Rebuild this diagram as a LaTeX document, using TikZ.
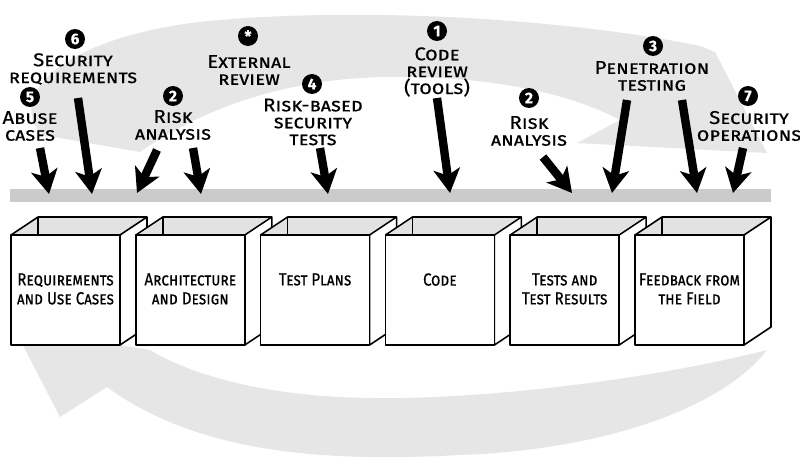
\documentclass[tikz,border=0pt]{standalone}
\usepackage{fontspec}
\setmainfont{Fira Sans}[FakeBold=0.4, SmallCapsFeatures={Scale=1.05, FakeStretch=1.1}]
\newfontfamily\boxfont{Fira Sans}[FakeStretch=0.86, FakeBold=0.4,
    SmallCapsFeatures={FakeStretch=0.86}]
\usetikzlibrary{arrows.meta}

\begin{document}
\begin{tikzpicture}[x=0.25mm, y=-0.25mm,
    bigarrow/.style={line width=2.1mm, -{Stealth[length=6mm, width=6.6mm, inset=1.6mm]}},
    badge/.style={circle, fill=black, text=white, inner sep=0pt, minimum size=5mm,
        font=\bfseries\fontsize{11}{11}\selectfont},
    toplbl/.style={align=center, inner sep=0pt, font=\scshape\fontsize{12.5}{12}\selectfont},
    boxlbl/.style={align=center, inner sep=0pt, font=\boxfont\scshape\fontsize{12.5}{13.5}\selectfont},
    cube/.style={draw=black, line width=1.1pt, line join=round}]
    % Define colors
    \definecolor{band}{RGB}{230,230,230}
    \definecolor{bar}{RGB}{203,203,203}
    \definecolor{inside}{RGB}{226,226,226}

    \useasboundingbox (0,0) rectangle (800,458);
    \fill[white] (0,0) rectangle (800,458);

    % --- BACKGROUND CYCLE (upper swoosh) ---
    \fill[band] (33,100) .. controls (45,60) and (120,28) .. (220,20)
        .. controls (400,5) and (600,25) .. (700,46) -- (715,52) -- (767,153)
        -- (577,143) -- (620,120)
        .. controls (560,88) and (470,75) .. (380,77)
        .. controls (280,80) and (200,110) .. (140,152)
        -- (43,135) .. controls (32,125) and (29,112) .. (33,100) -- cycle;

    % --- BACKGROUND CYCLE (lower swoosh) ---
    \fill[band] (767,350) .. controls (720,410) and (600,450) .. (460,455)
        .. controls (330,462) and (200,455) .. (107,387)
        -- (60,417) -- (14,328) -- (150,350)
        .. controls (200,380) and (280,397) .. (370,398)
        .. controls (480,400) and (650,380) .. (767,350) -- cycle;

    % --- THE BAR ---
    \fill[bar] (10,189) rectangle (771,202);

    % --- ARROWS onto the bar ---
    \foreach \i/\tx/\ty/\hx/\hy in {1/40/148/49/194, 2/78/98/92/194, 3/157/150/137/193,
        4/193/148/201/194, 5/320/148/328/194, 6/437/98/450/193, 7/543/157/572/193,
        8/627/100/612/193, 9/682/100/697/193, 10/743/148/733/193}
    {
        \coordinate (t\i) at (\tx,\ty);
        \coordinate (h\i) at (\hx,\hy);
        \draw[bigarrow] (t\i) -- (h\i);
    }

    % --- BOXES (left to right, each one covers the side of the previous) ---
    \foreach \i/\name/\lbl in {0/req/{Requirements\\and Use Cases}, 1/arch/{Architecture\\and Design},
        2/plans/{Test Plans}, 3/code/{Code}, 4/tests/{Tests and\\Test Results},
        5/field/{Feedback from\\the Field}}
    {
        \pgfmathsetmacro\bx{11+124.8*\i}
        \fill[inside] (\bx,235) -- (\bx+27,217) -- (\bx+136,217) -- (\bx+109,235) -- cycle;
        \draw[cube] (\bx,235) -- (\bx+27,217) -- (\bx+136,217);
        \draw[cube] (\bx+27,217) -- (\bx+27,235);
        \filldraw[cube, fill=white] (\bx+109,235) -- (\bx+136,217) -- (\bx+136,327) -- (\bx+109,345) -- cycle;
        \filldraw[cube, fill=white] (\bx,235) rectangle (\bx+109,345);
        \node[boxlbl, anchor=north] (\name) at (\bx+54.5,273) {\lbl};
    }

    % --- LABELS and their numbers ---
    \node[badge] (n5) at (30,97) {5};
    \node[toplbl] (abuse) at (30,126) {Abuse\\cases};
    \node[badge] (n6) at (75,39) {6};
    \node[toplbl] (secreq) at (73,69) {Security\\requirements};
    \node[badge] (nx) at (248,36) {*};
    \node[toplbl] (extrev) at (249,70) {External\\review};
    \node[badge] (n2a) at (173,96) {2};
    \node[toplbl] (riska) at (173,125) {Risk\\analysis};
    \node[badge] (n4) at (312,84) {4};
    \node[toplbl] (rbtests) at (313,122) {Risk-based\\security\\tests};
    \node[badge] (n1) at (437,31) {1};
    \node[toplbl] (codereview) at (437,72) {Code\\review\\(tools)};
    \node[badge] (n2b) at (529,98) {2};
    \node[toplbl] (riskb) at (529,131) {Risk\\analysis};
    \node[badge] (n3) at (653,46) {3};
    \node[toplbl] (pentest) at (652,76) {Penetration\\testing};
    \node[badge] (n7) at (748,96) {7};
    \node[toplbl] (secops) at (749,126) {Security\\operations};

\end{tikzpicture}
\end{document}
